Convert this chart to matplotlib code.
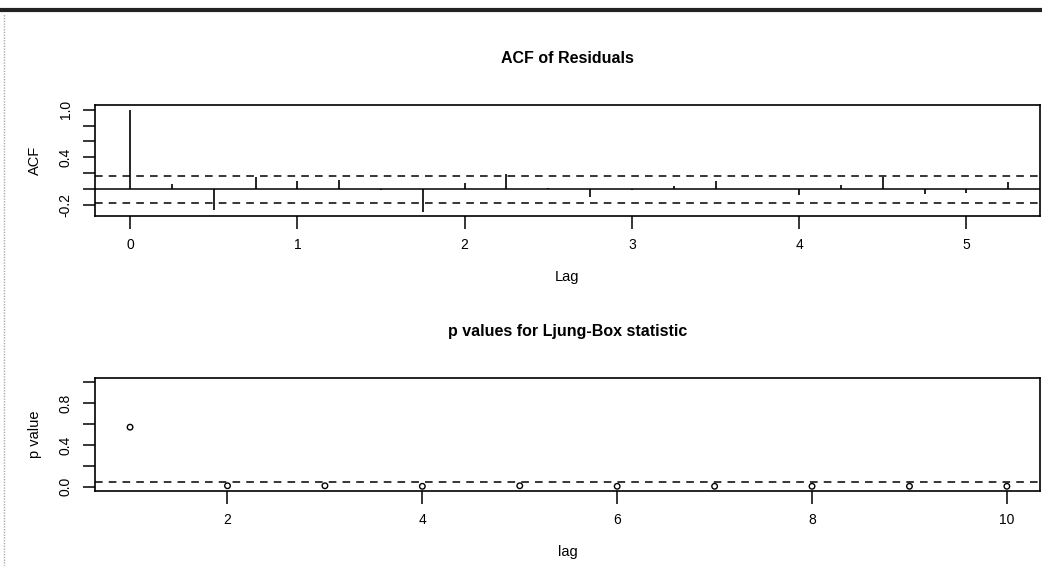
#!/usr/bin/env python3
"""Residual diagnostics: ACF of residuals and Ljung-Box p values (R tsdiag look)."""

import matplotlib

matplotlib.use("Agg")
import matplotlib.pyplot as plt
from matplotlib.lines import Line2D

# ACF of residuals, quarterly series -> lags in years (step 0.25)
acf_lags = [0, 0.25, 0.5, 0.75, 1.0, 1.25, 1.5, 1.75, 2.0, 2.25, 2.5,
            2.75, 3.0, 3.25, 3.5, 3.75, 4.0, 4.25, 4.5, 4.75, 5.0, 5.25]
acf_values = [1.0, 0.06, -0.26, 0.15, 0.10, 0.12, -0.01, -0.29, 0.07, 0.19, 0.01,
              -0.10, -0.01, 0.04, 0.10, 0.0, -0.08, 0.05, 0.15, -0.06, -0.05, 0.09]
acf_ci = 0.17

# Ljung-Box p values by lag
lb_lags = [1, 2, 3, 4, 5, 6, 7, 8, 9, 10]
lb_pvalues = [0.57, 0.01, 0.01, 0.005, 0.01, 0.005, 0.005, 0.005, 0.005, 0.005]
lb_level = 0.05

acf_yticks = [-0.2, 0.0, 0.2, 0.4, 0.6, 0.8, 1.0]
acf_ytick_labels = ["-0.2", "", "", "0.4", "", "", "1.0"]
lb_yticks = [0.0, 0.2, 0.4, 0.6, 0.8, 1.0]
lb_ytick_labels = ["0.0", "", "0.4", "", "0.8", ""]

W, H = 1042, 566
FONT = "Liberation Sans"
DASH = (0, (5, 4))


def px_box(left, top, right, bottom):
    """Axes rect in figure fractions from pixel edges (y from top)."""
    return [left / W, 1 - bottom / H, (right - left) / W, (bottom - top) / H]


def style_axes(ax, yticks, ylabels):
    for side in ax.spines.values():
        side.set_linewidth(1.2)
        side.set_color("black")
    ax.set_yticks(yticks)
    ax.set_yticklabels(ylabels, rotation=90, va="center")
    ax.tick_params(direction="out", length=9, width=1.1, labelsize=10,
                   pad=7, colors="black")
    for lab in ax.get_xticklabels() + ax.get_yticklabels():
        lab.set_fontfamily(FONT)


def plot_acf(fig):
    ax = fig.add_axes(px_box(95, 105, 1040, 216))
    ax.vlines(acf_lags, 0, acf_values, color="black", lw=1.2)
    ax.axhline(0, color="black", lw=1.1)
    ax.axhline(acf_ci, color="black", lw=1.1, ls=DASH)
    ax.axhline(-acf_ci, color="black", lw=1.1, ls=DASH)
    ax.set_xlim(-0.21, 5.44)
    ax.set_ylim(-0.34, 1.06)
    ax.set_xticks([0, 1, 2, 3, 4, 5])
    style_axes(ax, acf_yticks, acf_ytick_labels)
    ax.set_title("ACF of Residuals", fontfamily=FONT, fontweight="bold",
                 fontsize=11.5, pad=30)
    ax.set_xlabel("Lag", fontfamily=FONT, fontsize=10.5, labelpad=13)
    ax.set_ylabel("ACF", fontfamily=FONT, fontsize=10.5, labelpad=12)
    return ax


def plot_ljung_box(fig):
    ax = fig.add_axes(px_box(95, 378, 1040, 491))
    ax.scatter(lb_lags, lb_pvalues, s=16, facecolors="none",
               edgecolors="black", linewidths=1.0, zorder=3)
    ax.axhline(lb_level, color="black", lw=1.1, ls=DASH)
    ax.set_xlim(0.64, 10.34)
    ax.set_ylim(-0.04, 1.04)
    ax.set_xticks([2, 4, 6, 8, 10])
    style_axes(ax, lb_yticks, lb_ytick_labels)
    ax.set_title("p values for Ljung-Box statistic", fontfamily=FONT,
                 fontweight="bold", fontsize=11.5, pad=30)
    ax.set_xlabel("lag", fontfamily=FONT, fontsize=10.5, labelpad=13)
    ax.set_ylabel("p value", fontfamily=FONT, fontsize=10.5, labelpad=12)
    return ax


def window_frame(fig):
    # screenshot chrome: dark bar along the top, dotted grey edge on the left
    fig.add_artist(Line2D([0, 1], [1 - 10 / H, 1 - 10 / H], color="#222222",
                          lw=3, transform=fig.transFigure))
    fig.add_artist(Line2D([4 / W, 4 / W], [0, 1 - 14 / H], color="#aaaaaa",
                          lw=1, ls=(0, (1, 1)), transform=fig.transFigure))


def main():
    fig = plt.figure(figsize=(W / 100, H / 100), dpi=100)
    fig.patch.set_facecolor("white")
    plot_acf(fig)
    plot_ljung_box(fig)
    window_frame(fig)
    fig.savefig("out.png", dpi=100)
    plt.close(fig)


if __name__ == "__main__":
    main()
